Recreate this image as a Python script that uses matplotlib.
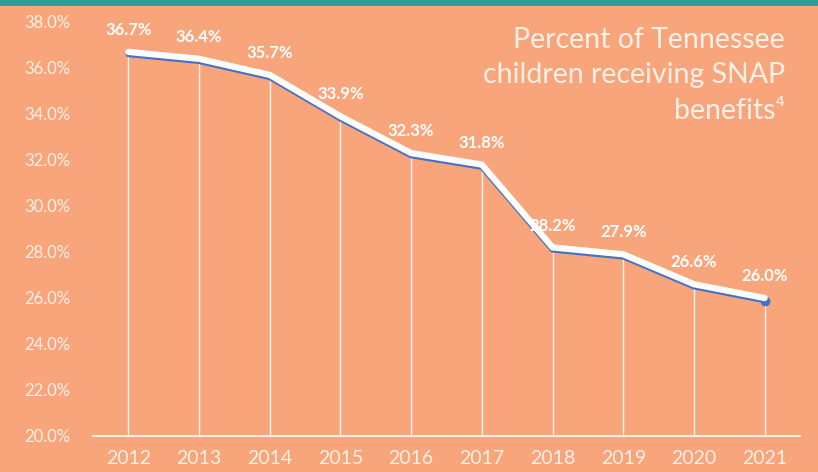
import matplotlib.pyplot as plt
import matplotlib.transforms as mtransforms
from matplotlib.patches import Rectangle

years = ['2012', '2013', '2014', '2015', '2016', '2017', '2018', '2019', '2020', '2021']
pct = [36.7, 36.4, 35.7, 33.9, 32.3, 31.8, 28.2, 27.9, 26.6, 26.0]
y_ticks = [20, 22, 24, 26, 28, 30, 32, 34, 36, 38]

BG = '#F8A57B'
TXT = '#FFF1E8'
FONT = ['Lato', 'DejaVu Sans']
plt.rcParams['font.family'] = FONT

fig = plt.figure(figsize=(8.18, 4.72), dpi=100, facecolor=BG)
# teal band at the top
fig.patches.append(Rectangle((0, 1 - 6 / 472), 1, 6 / 472, transform=fig.transFigure,
                             facecolor='#2E9C9C', edgecolor='none'))

ax = fig.add_axes([93 / 818, 1 - 436 / 472, 707 / 818, 414 / 472])
ax.set_facecolor(BG)
xs = list(range(len(years)))

# drop lines from each point down to the axis
ax.vlines(xs, 20, pct, color='white', lw=1.0, alpha=0.9, zorder=1)

# blue shadow line slightly below the white line
shift = mtransforms.offset_copy(ax.transData, fig=fig, x=0, y=-2.5, units='dots')
ax.plot(xs, pct, color='#4472C4', lw=4, solid_capstyle='round', zorder=2, transform=shift)
ax.plot(xs[-1:], pct[-1:], 'o', color='#4472C4', ms=6, zorder=2, transform=shift)
ax.plot(xs, pct, color='white', lw=4.5, solid_capstyle='round', zorder=3)

for x, v in zip(xs, pct):
    ax.annotate('%.1f%%' % v, (x, v), xytext=(0, 10), textcoords='offset points',
                ha='center', va='bottom', color='white', fontsize=12, fontweight='bold')

ax.set_xlim(-0.5, 9.5)
ax.set_ylim(20, 38)
ax.set_yticks(y_ticks)
ax.set_yticklabels(['%.1f%%' % t for t in y_ticks], color=TXT, fontsize=12)
ax.set_xticks(xs)
ax.set_xticklabels(years, color=TXT, fontsize=14)
ax.tick_params(axis='both', length=0)
ax.tick_params(axis='y', pad=16)
ax.tick_params(axis='x', pad=10)
for s in ['top', 'right', 'left']:
    ax.spines[s].set_visible(False)
ax.spines['bottom'].set_color('white')
ax.spines['bottom'].set_linewidth(1.2)

fig.text(785 / 818, 1 - 27 / 472, 'Percent of Tennessee\nchildren receiving SNAP\nbenefits\u2074',
         ha='right', va='top', color=TXT, fontsize=20.5, linespacing=1.45, family=FONT)

fig.savefig('out.png', dpi=100, facecolor=BG)
